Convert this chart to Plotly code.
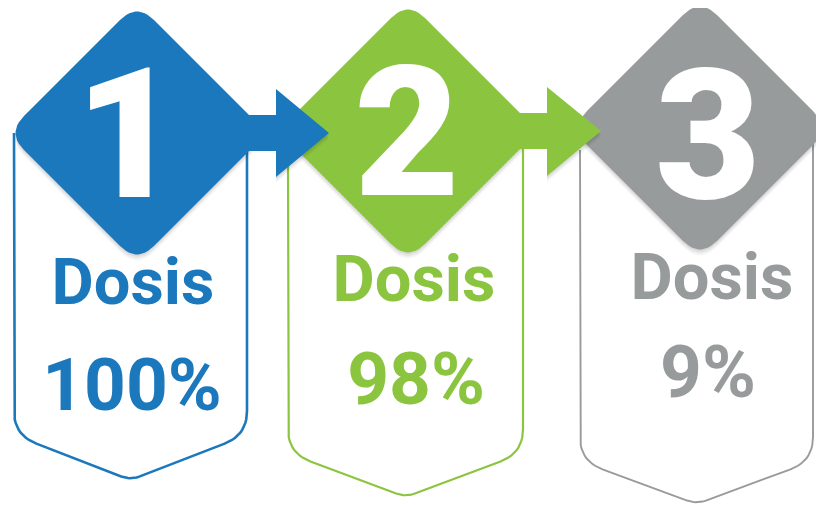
import numpy as np
import plotly.graph_objects as go

# ---------------- data ----------------
steps = ["1", "2", "3"]
labels = ["Dosis", "Dosis", "Dosis"]
values = [100, 98, 9]
colors = ["#1b78bc", "#8bc540", "#989b9c"]

# ---------------- geometry (layout, pixel units) ----------------
W, H = 824, 505
PAD = 8  # page body margin
diamond_c = [(137, 133), (408, 131), (700, 128)]
diamond_h = 130
box_lr = [(14, 247), (288, 523), (580, 813)]
box_top = [133, 160, 150]
box_corner = [435, 453, 461]
box_tip = [480, 497, 504]
box_lw = [2.6, 2.2, 1.9]
arrows = [  # shaft start, shaft top, shaft bottom, head base, head top, head bottom, tip x, tip y
    (240, 115, 151, 276, 89, 177, 329, 133),
    (510, 113, 149, 547, 87, 176, 601, 131),
]
num_pos = [(128, 151), (407, 149), (708, 152)]
lab_pos = [(133, 288), (414, 285), (712, 283)]
val_pos = [(132, 392), (416, 386), (708, 379)]


def rounded(pts, r, n=12, closed=True, rs=None):
    pts = [np.array(p, dtype=float) for p in pts]
    N = len(pts)
    out = []
    for i in range(N):
        if not closed and (i == 0 or i == N - 1):
            out.append(pts[i])
            continue
        rr = r if rs is None else rs[i]
        p0, p1, p2 = pts[i - 1], pts[i], pts[(i + 1) % N]
        v1 = (p0 - p1) / np.linalg.norm(p0 - p1)
        v2 = (p2 - p1) / np.linalg.norm(p2 - p1)
        a = p1 + v1 * rr
        b = p1 + v2 * rr
        for t in np.linspace(0, 1, n):
            out.append((1 - t) ** 2 * a + 2 * (1 - t) * t * p1 + t ** 2 * b)
    if closed:
        out.append(out[0])
    xs = [p[0] for p in out]
    ys = [p[1] for p in out]
    return xs, ys


fig = go.Figure()

# box outlines
for i in range(3):
    L, R = box_lr[i]
    cx = (L + R) / 2
    pts = [(L, box_top[i]), (L, box_corner[i]), (cx, box_tip[i]), (R, box_corner[i]), (R, 140)]
    xs, ys = rounded(pts, 24, closed=False, rs=[0, 24, 10, 24, 0])
    fig.add_trace(go.Scatter(x=xs, y=ys, mode="lines",
                             line=dict(color=colors[i], width=box_lw[i]),
                             hoverinfo="skip", showlegend=False))


def diamond_pts(cx, cy, h):
    return [(cx, cy - h), (cx + h, cy), (cx, cy + h), (cx - h, cy)]


def add_shadow(pts, r):
    for dx, dy, a in [(0, 6, 0.035), (0, 4, 0.05), (0, 2, 0.06)]:
        sp = [(x + dx, y + dy) for x, y in pts]
        if r:
            xs, ys = rounded(sp, r)
        else:
            xs = [p[0] for p in sp] + [sp[0][0]]
            ys = [p[1] for p in sp] + [sp[0][1]]
        fig.add_trace(go.Scatter(x=xs, y=ys, mode="lines", fill="toself",
                                 fillcolor=f"rgba(0,0,0,{a})", line=dict(width=0),
                                 hoverinfo="skip", showlegend=False))


def arrow_pts(a):
    x0, sy0, sy1, hb, hy0, hy1, tx, ty = a
    return [(x0, sy0), (hb, sy0), (hb, hy0), (tx, ty), (hb, hy1), (hb, sy1), (x0, sy1)]


for i in range(3):
    cx, cy = diamond_c[i]
    dp = diamond_pts(cx, cy, diamond_h)
    add_shadow(dp, 24)
    xs, ys = rounded(dp, 24)
    fig.add_trace(go.Scatter(x=xs, y=ys, mode="lines", fill="toself",
                             fillcolor=colors[i], line=dict(width=0, color=colors[i]),
                             hoverinfo="skip", showlegend=False))
    if i > 0:
        ap = arrow_pts(arrows[i - 1])
        add_shadow(ap[1:6], 0)
        xs = [p[0] for p in ap] + [ap[0][0]]
        ys = [p[1] for p in ap] + [ap[0][1]]
        fig.add_trace(go.Scatter(x=xs, y=ys, mode="lines", fill="toself",
                                 fillcolor=colors[i - 1], line=dict(width=0, color=colors[i - 1]),
                                 hoverinfo="skip", showlegend=False))

# numbers in diamonds
fig.add_trace(go.Scatter(
    x=[p[0] for p in num_pos], y=[p[1] for p in num_pos], mode="text", text=steps,
    textposition="middle center",
    textfont=dict(family="Roboto", size=182, color="white", weight=900),
    hoverinfo="skip", showlegend=False))

# labels
fig.add_trace(go.Scatter(
    x=[p[0] for p in lab_pos], y=[p[1] for p in lab_pos], mode="text", text=labels,
    textposition="middle center",
    textfont=dict(family="Roboto", size=65, color=colors, weight=700),
    hoverinfo="skip", showlegend=False))

# values
fig.add_trace(go.Scatter(
    x=[p[0] for p in val_pos], y=[p[1] for p in val_pos], mode="text",
    text=[f"{v}%" for v in values],
    textposition="middle center",
    textfont=dict(family="Roboto", size=73, color=colors, weight=700),
    hoverinfo="skip", showlegend=False))

fig.update_xaxes(range=[PAD, W], visible=False, fixedrange=True)
fig.update_yaxes(range=[H, PAD], visible=False, fixedrange=True)
fig.update_layout(width=W - PAD, height=H - PAD, margin=dict(l=0, r=0, t=0, b=0),
                  paper_bgcolor="white", plot_bgcolor="white", showlegend=False)

fig.write_html("out.html", config={"displayModeBar": False})
